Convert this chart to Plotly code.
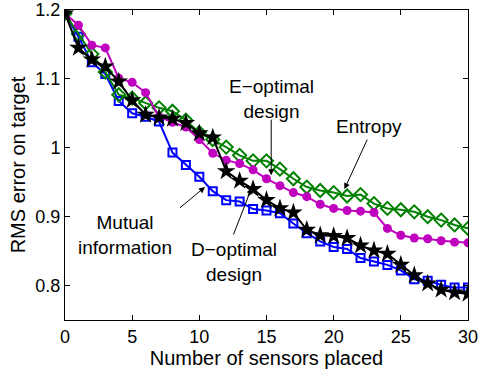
import plotly.graph_objects as go

# Number of sensors placed (0..30)
sensors = list(range(31))

# RMS error on target for each placement strategy
mutual_info = [1.195, 1.161, 1.124, 1.107, 1.068, 1.050, 1.045, 1.038, 0.993, 0.975,
               0.958, 0.937, 0.924, 0.922, 0.911, 0.909, 0.905, 0.890, 0.876, 0.864,
               0.856, 0.853, 0.840, 0.835, 0.830, 0.822, 0.809, 0.807, 0.801, 0.797, 0.797]
e_optimal = [1.195, 1.178, 1.149, 1.145, 1.101, 1.095, 1.080, 1.045, 1.037, 1.030,
             1.012, 0.992, 0.982, 0.977, 0.968, 0.955, 0.945, 0.935, 0.929, 0.918,
             0.912, 0.909, 0.908, 0.906, 0.883, 0.873, 0.869, 0.868, 0.865, 0.863, 0.862]
entropy = [1.195, 1.165, 1.136, 1.110, 1.077, 1.072, 1.065, 1.058, 1.053, 1.040,
           1.022, 1.012, 1.001, 0.989, 0.981, 0.981, 0.969, 0.955, 0.943, 0.938,
           0.935, 0.930, 0.932, 0.919, 0.912, 0.910, 0.907, 0.900, 0.895, 0.888, 0.883]
d_optimal = [1.195, 1.145, 1.128, 1.118, 1.096, 1.069, 1.048, 1.044, 1.042, 1.036,
             1.021, 1.015, 0.966, 0.952, 0.940, 0.924, 0.912, 0.906, 0.881, 0.873,
             0.872, 0.869, 0.858, 0.851, 0.846, 0.830, 0.815, 0.803, 0.794, 0.790, 0.788]

x_ticks = [0, 5, 10, 15, 20, 25, 30]
y_ticks = [0.8, 0.9, 1.0, 1.1, 1.2]
y_tick_labels = ["0.8", "0.9", "1", "1.1", "1.2"]

FONT = "Liberation Sans, Arial, sans-serif"

fig = go.Figure()

series = [
    ("Mutual information", mutual_info, "#0000FF", "square-open", 8, 2),
    ("Entropy", entropy, "#008000", "diamond-open", 10, 2),
    ("E-optimal design", e_optimal, "#BF00BF", "circle", 9, 0),
    ("D-optimal design", d_optimal, "#000000", "star", 14, 0),
]
for name, ys, color, symbol, size, mlw in series:
    fig.add_trace(go.Scatter(
        x=sensors, y=ys, name=name, mode="lines+markers",
        line=dict(color=color, width=2),
        marker=dict(symbol=symbol, size=size, color=color,
                    line=dict(color=color, width=mlw)),
        showlegend=False,
    ))

# Labelled arrows pointing at the curves
notes = [
    ("E\u2212optimal<br>design", 15.35, 0.960, 15.35, 1.043, 15.35, 1.071),
    ("Entropy", 20.8, 0.940, 22.55, 1.014, 22.6, 1.031),
    ("Mutual<br>information", 10.42, 0.943, 8.44, 0.911, 4.45, 0.874),
    ("D\u2212optimal<br>design", 13.9, 0.942, 12.5, 0.872, 12.55, 0.834),
]
for text, hx, hy, tx, ty, lx, ly in notes:
    fig.add_annotation(x=hx, y=hy, ax=tx, ay=ty, xref="x", yref="y",
                       axref="x", ayref="y", text="", showarrow=True,
                       arrowhead=2, arrowsize=1.2, arrowwidth=1, arrowcolor="black")
    fig.add_annotation(x=lx, y=ly, xref="x", yref="y", text=text,
                       showarrow=False, align="center",
                       font=dict(family=FONT, size=19, color="black"))

axis_common = dict(
    showline=True, linecolor="black", linewidth=1, mirror="allticks",
    ticks="inside", ticklen=5, tickcolor="black", showgrid=False, zeroline=False,
    automargin=False,
    tickfont=dict(family=FONT, size=18, color="black"),
)
fig.update_xaxes(range=[0, 30], tickvals=x_ticks,
                 title=dict(text="Number of sensors placed", standoff=0,
                            font=dict(family=FONT, size=20, color="black")),
                 **axis_common)
fig.update_yaxes(range=[0.75, 1.2], tickvals=y_ticks, ticktext=y_tick_labels,
                 title=dict(text="RMS error on target", standoff=4,
                            font=dict(family=FONT, size=20, color="black")),
                 **axis_common)

fig.update_layout(
    width=479, height=372,
    margin=dict(l=65, r=11, t=10, b=52),
    paper_bgcolor="white", plot_bgcolor="white",
)

fig.write_html("out.html")
